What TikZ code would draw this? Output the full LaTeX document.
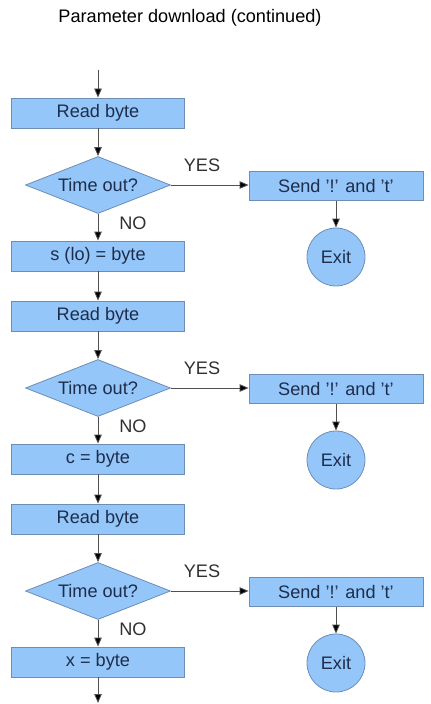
\documentclass[tikz,border=0pt]{standalone}
\usepackage{fontspec}
\setmainfont{Liberation Sans}
\usetikzlibrary{shapes.geometric,arrows.meta}

\definecolor{boxfill}{HTML}{94C6FA}
\definecolor{boxline}{HTML}{6E8DB3}
\definecolor{boxtext}{HTML}{1E2D4A}
\definecolor{linkline}{HTML}{505050}
\definecolor{labeltext}{HTML}{303030}

\tikzset{
  every node/.style={font=\fontsize{18.2}{21}\selectfont},
  procbox/.style={rectangle, draw=boxline, fill=boxfill, text=boxtext,
    line width=0.8bp, minimum width=173bp, minimum height=30bp, inner sep=0pt},
  sendbox/.style={procbox, minimum width=174bp, minimum height=29bp},
  decision/.style={diamond, draw=boxline, fill=boxfill, text=boxtext,
    line width=0.8bp, aspect=2.5, minimum width=145bp, minimum height=57bp, inner sep=0pt},
  exitnode/.style={circle, draw=boxline, fill=boxfill, text=boxtext,
    line width=0.8bp, minimum size=58bp, inner sep=0pt},
  answer/.style={text=labeltext, inner sep=0pt},
  link/.style={draw=linkline, line width=0.8bp,
    -{Triangle[length=9bp,width=7.5bp,fill=black]}},
}

\begin{document}
\begin{tikzpicture}[x=1bp,y=-1bp]
  \useasboundingbox (0,0) rectangle (430,704);

  \node (title) at (190,18) {Parameter download (continued)};

  \coordinate (start) at (98,70);
  \coordinate (finish) at (98,703);

  % three identical read / check / store stages
  \foreach \i/\d/\res in {1/185/{s (lo) = byte}, 2/388/{c = byte}, 3/591/{x = byte}} {
    \node[procbox]  (read\i) at (98,\d-72) {Read byte};
    \node[decision] (dec\i)  at (98,\d)    {Time out?};
    \node[sendbox]  (send\i) at (336,\d+1) {Send '!' and 't'};
    \node[exitnode] (exit\i) at (336,\d+72) {Exit};
    \node[procbox]  (res\i)  at (98,\d+71) {\res};
    \node[answer]   (yes\i)  at (202,\d-20) {YES};
    \node[answer]   (no\i)   at (133,\d+38) {NO};
    \draw[link] (read\i) -- (dec\i);
    \draw[link] (dec\i.east) -- (dec\i.east -| send\i.west);
    \draw[link] (send\i) -- (exit\i);
    \draw[link] (dec\i) -- (res\i);
  }

  \draw[link] (start) -- (read1);
  \draw[link] (res1) -- (read2);
  \draw[link] (res2) -- (read3);
  \draw[link] (res3) -- (finish);
\end{tikzpicture}
\end{document}
